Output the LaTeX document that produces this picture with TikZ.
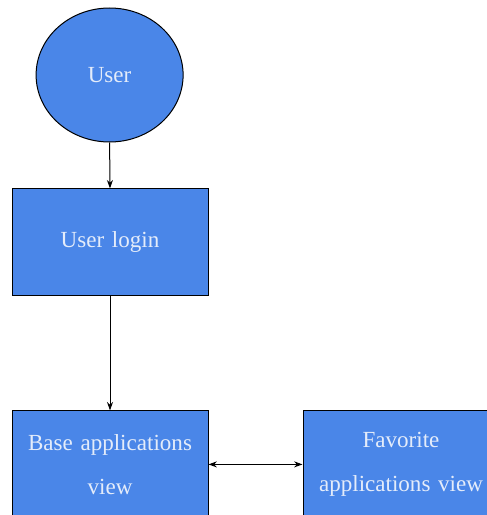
\documentclass[tikz,border=0pt]{standalone}
\usepackage{fontspec}
\setmainfont{Liberation Serif}
\usepackage{tikz}
\usetikzlibrary{positioning, arrows.meta, shapes.geometric}
\definecolor{flowblue}{HTML}{4A86E8}
\definecolor{flowtext}{HTML}{E4ECFA}
\tikzset{
  % --- flow chart shapes ---
  actor/.style={draw, ellipse, fill=flowblue, text=flowtext,
    minimum width=36.75mm, minimum height=33.5mm, inner sep=0pt,
    line width=0.25mm, font=\fontsize{16.4}{31}\selectfont},
  viewbox/.style={draw, rectangle, fill=flowblue, text=flowtext,
    minimum width=49mm, minimum height=26.75mm, inner sep=0pt,
    line width=0.25mm, align=center, text width=47mm,
    font=\fontsize{16.4}{31}\selectfont},
  % --- connectors ---
  flow/.style={-{Stealth[length=2.1mm, width=1.5mm]}, line width=0.25mm},
  both/.style={{Stealth[length=2.1mm, width=1.5mm]}-{Stealth[length=2.1mm, width=1.5mm]},
    line width=0.25mm},
}

\begin{document}
\begin{tikzpicture}
    \useasboundingbox (0,0) rectangle (121.5mm,-128.75mm);
    % nodes
    \node[actor] (user) at (27.4mm,-18.75mm) {User};
    \node[viewbox] (login) at (27.5mm,-60.6mm) {\raisebox{0.6mm}{User login}};
    \node[viewbox] (base) at (27.5mm,-116.1mm) {Base applications\\view\\[1.2mm]};
    \node[viewbox] (fav) at (100.25mm,-116.1mm) {Favorite\\applications view\\[0.6mm]};
    % arrows
    \draw[flow] (user.south) -- (login.north);
    \draw[flow] (login.south) -- (base.north);
    \draw[both] (base.east) -- (fav.west);
  \end{tikzpicture}
\end{document}
